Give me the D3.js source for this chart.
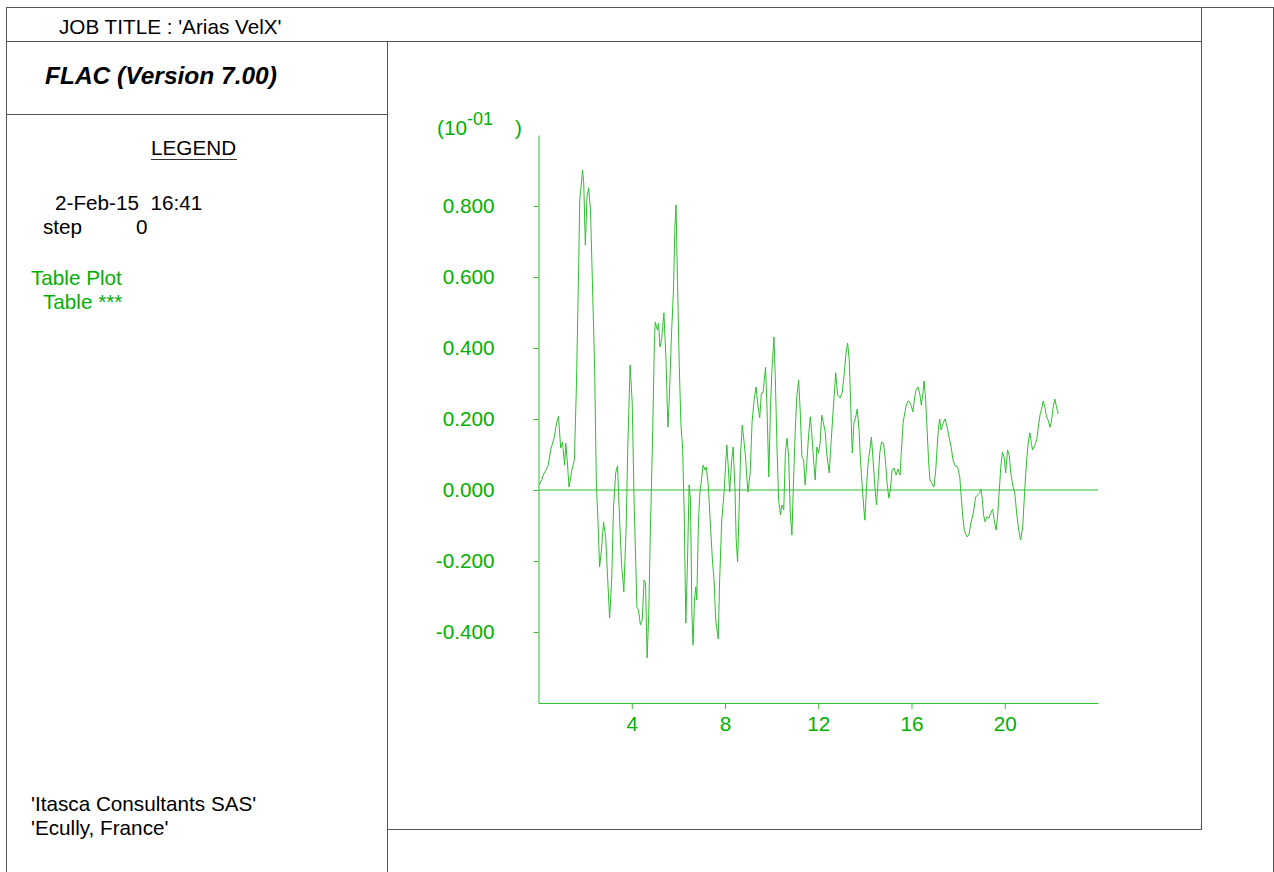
<!DOCTYPE html>
<html>
<head>
<meta charset="utf-8">
<script src="https://cdn.jsdelivr.net/npm/d3@7"></script>
<style>
  body { margin: 0; background: #fff; }
  svg { display: block; font-family: Arial, "Liberation Sans", sans-serif; }
</style>
</head>
<body>
<div id="chart"></div>
<script>
// table data (time, velX in 10^-1 units)
var time = [0.03,0.14,0.20,0.32,0.42,0.52,0.66,0.78,0.86,0.95,1.03,1.12,1.17,1.23,1.31,1.43,1.54,1.63,1.73,1.77,
  1.84,1.89,1.94,2.01,2.08,2.15,2.23,2.31,2.41,2.48,2.55,2.62,2.70,2.79,2.88,2.97,3.05,3.14,3.22,3.31,
  3.39,3.48,3.56,3.66,3.76,3.83,3.93,4.02,4.10,4.16,4.22,4.29,4.37,4.45,4.53,4.59,4.66,4.73,4.79,4.84,
  4.90,4.97,5.01,5.10,5.15,5.21,5.28,5.38,5.47,5.55,5.61,5.70,5.79,5.85,5.90,5.96,6.04,6.11,6.18,6.25,
  6.32,6.39,6.46,6.52,6.58,6.63,6.69,6.75,6.79,6.86,6.92,6.99,7.06,7.15,7.20,7.29,7.37,7.46,7.53,7.60,
  7.71,7.77,7.86,7.96,8.03,8.08,8.14,8.20,8.29,8.35,8.43,8.48,8.54,8.60,8.67,8.74,8.81,8.88,8.98,9.08,
  9.16,9.25,9.33,9.42,9.49,9.56,9.63,9.74,9.80,9.88,9.95,10.02,10.10,10.16,10.23,10.30,10.38,10.44,10.52,10.59,
  10.66,10.73,10.80,10.87,10.94,11.02,11.08,11.16,11.23,11.30,11.37,11.44,11.51,11.58,11.66,11.72,11.80,11.87,11.94,12.01,
  12.08,12.15,12.22,12.30,12.36,12.47,12.55,12.65,12.75,12.83,12.94,13.03,13.12,13.19,13.26,13.33,13.39,13.46,13.53,13.60,
  13.67,13.75,13.81,13.89,13.96,14.00,14.07,14.14,14.23,14.28,14.36,14.43,14.50,14.57,14.64,14.71,14.80,14.88,14.95,15.03,
  15.09,15.17,15.25,15.34,15.42,15.51,15.56,15.64,15.71,15.78,15.85,15.92,15.99,16.06,16.13,16.20,16.28,16.35,16.42,16.49,
  16.54,16.60,16.67,16.73,16.79,16.87,16.96,17.04,17.10,17.16,17.21,17.27,17.36,17.44,17.53,17.61,17.70,17.78,17.87,17.98,
  18.07,18.12,18.20,18.27,18.38,18.46,18.55,18.66,18.75,18.84,18.92,18.98,19.04,19.09,19.16,19.23,19.32,19.40,19.48,19.55,
  19.63,19.69,19.76,19.83,19.90,19.97,20.04,20.12,20.19,20.26,20.34,20.43,20.51,20.60,20.68,20.77,20.85,20.94,21.02,21.08,
  21.14,21.19,21.28,21.37,21.44,21.51,21.60,21.65,21.72,21.79,21.86,21.94,22.00,22.08,22.15,22.22,22.29];
var velX = [0.014,0.028,0.042,0.056,0.070,0.113,0.144,0.189,0.208,0.118,0.135,0.070,0.132,0.085,0.008,0.056,0.085,0.301,0.656,0.817,
  0.865,0.901,0.865,0.690,0.825,0.851,0.789,0.592,0.338,0.020,-0.085,-0.217,-0.169,-0.090,-0.132,-0.254,-0.361,-0.254,-0.048,0.048,
  0.068,-0.085,-0.206,-0.287,-0.104,0.121,0.352,0.245,-0.028,-0.177,-0.330,-0.338,-0.380,-0.366,-0.254,-0.262,-0.473,-0.346,-0.141,0.000,
  0.169,0.414,0.473,0.451,0.470,0.403,0.423,0.499,0.366,0.177,0.254,0.431,0.563,0.741,0.803,0.592,0.346,0.183,0.121,-0.065,
  -0.375,-0.206,0.014,-0.028,-0.346,-0.437,-0.310,-0.273,-0.310,-0.093,-0.008,0.028,0.070,0.056,0.065,0.008,-0.093,-0.197,-0.254,-0.366,
  -0.420,-0.254,-0.085,-0.008,0.076,0.127,0.065,-0.006,0.085,0.121,0.000,-0.141,-0.203,-0.065,0.104,0.183,0.141,0.093,-0.006,0.048,
  0.189,0.254,0.290,0.234,0.203,0.273,0.273,0.346,0.234,0.037,0.234,0.346,0.431,0.310,0.121,-0.028,-0.070,-0.042,-0.056,0.104,
  0.146,0.093,-0.065,-0.127,0.028,0.177,0.262,0.310,0.217,0.093,0.085,0.014,0.076,0.149,0.206,0.161,0.085,0.028,0.121,0.104,
  0.132,0.211,0.189,0.163,0.104,0.048,0.132,0.234,0.330,0.268,0.259,0.276,0.330,0.386,0.414,0.366,0.245,0.104,0.189,0.203,
  0.228,0.169,0.085,0.008,-0.056,-0.085,0.008,0.076,0.121,0.149,0.076,0.008,-0.042,0.028,0.104,0.135,0.132,0.085,0.020,-0.023,
  0.000,0.056,0.062,0.042,0.059,0.042,0.104,0.189,0.217,0.239,0.251,0.248,0.237,0.220,0.259,0.282,0.290,0.273,0.239,0.273,
  0.307,0.262,0.169,0.085,0.028,0.020,0.008,0.056,0.121,0.177,0.200,0.169,0.189,0.200,0.177,0.149,0.121,0.085,0.068,0.065,
  0.037,-0.008,-0.076,-0.115,-0.132,-0.127,-0.093,-0.062,-0.020,-0.014,-0.008,0.003,-0.028,-0.070,-0.090,-0.076,-0.079,-0.065,-0.054,-0.085,
  -0.113,-0.076,-0.008,0.065,0.107,0.093,0.048,0.113,0.099,0.048,0.014,-0.008,-0.065,-0.113,-0.141,-0.104,-0.008,0.085,0.141,0.161,
  0.132,0.113,0.124,0.141,0.177,0.211,0.234,0.251,0.234,0.206,0.197,0.177,0.192,0.234,0.256,0.234,0.214];

var xTicks = [4, 8, 12, 16, 20];
var yTicks = [-0.4, -0.2, 0, 0.2, 0.4, 0.6, 0.8];
var xDomain = [0, 24];
var yDomain = [-0.6, 1.0];

var width = 1274, height = 872;
var green = "#00b000", lineGreen = "#2fbf2f", frame = "#555";
var fs = 20.7;

var svg = d3.select("#chart").append("svg")
    .attr("width", width)
    .attr("height", height);

// frame lines of the FLAC page
var frameLines = [
  [6, 7.5, 1273, 7.5], [6.5, 7, 6.5, 872], [1273.5, 7, 1273.5, 872],
  [1201.5, 7, 1201.5, 830], [6, 41.5, 1201, 41.5], [387.5, 41, 387.5, 872],
  [6, 114.5, 387, 114.5], [387, 829.5, 1202, 829.5]
];
svg.selectAll("line.frame")
  .data(frameLines)
  .join("line")
    .attr("class", "frame")
    .attr("x1", d => d[0]).attr("y1", d => d[1])
    .attr("x2", d => d[2]).attr("y2", d => d[3])
    .attr("stroke", frame)
    .attr("stroke-width", 1);

function label(x, y, txt, opts) {
  opts = opts || {};
  return svg.append("text")
    .attr("x", x).attr("y", y)
    .attr("font-size", opts.size || fs)
    .attr("font-weight", opts.weight || "normal")
    .attr("font-style", opts.style || "normal")
    .attr("fill", opts.fill || "#000")
    .attr("text-anchor", opts.anchor || "start")
    .style("white-space", "pre")
    .text(txt);
}

label(59, 34, "JOB TITLE : 'Arias VelX'");
label(45, 84, "FLAC (Version 7.00)", {size: 24.5, weight: "bold", style: "italic"});
label(151, 155, "LEGEND");
svg.append("line")
    .attr("x1", 151).attr("x2", 237)
    .attr("y1", 159.5).attr("y2", 159.5)
    .attr("stroke", "#333");
label(55, 210, "2-Feb-15  16:41");
label(43, 234, "step");
label(136, 234, "0");
label(31, 285, "Table Plot", {fill: green});
label(43, 309, "Table ***", {fill: green});
label(31, 811, "'Itasca Consultants SAS'");
label(31, 835, "'Ecully, France'");

// plot area
var x = d3.scaleLinear().domain(xDomain).range([538.5, 1098]);
var y = d3.scaleLinear().domain(yDomain).range([703, 135]);

var g = svg.append("g");
var fmt = d3.format(".3f");

var yAxis = g.append("g")
    .attr("transform", "translate(" + x(0) + ",0)")
    .call(d3.axisLeft(y).tickValues(yTicks).tickFormat(d => fmt(d).replace("\u2212", "-"))
      .tickSize(5).tickSizeOuter(0).tickPadding(39));
var xAxis = g.append("g")
    .attr("transform", "translate(0," + y(-0.6) + ")")
    .call(d3.axisBottom(x).tickValues(xTicks).tickFormat(d3.format("d"))
      .tickSize(6).tickSizeOuter(0).tickPadding(7));

[yAxis, xAxis].forEach(function(a) {
  a.select(".domain").attr("stroke", lineGreen);
  a.selectAll(".tick line").attr("stroke", lineGreen);
  a.selectAll(".tick text")
    .attr("fill", green)
    .attr("font-size", fs)
    .attr("font-family", "Arial, 'Liberation Sans', sans-serif");
});

// zero line
g.append("line")
    .attr("x1", x(xDomain[0])).attr("x2", x(xDomain[1]))
    .attr("y1", y(0)).attr("y2", y(0))
    .attr("stroke", lineGreen);

// exponent label
var expo = label(437, 135, "(10", {fill: green});
expo.append("tspan").attr("dy", -10).attr("font-size", 18).text("-01");
label(515, 135, ")", {fill: green});

// the table curve
var line = d3.line()
    .x((d, i) => x(time[i]))
    .y(d => y(d));

g.append("path")
    .datum(velX)
    .attr("d", line)
    .attr("fill", "none")
    .attr("stroke", lineGreen)
    .attr("stroke-width", 1);
</script>
</body>
</html>
